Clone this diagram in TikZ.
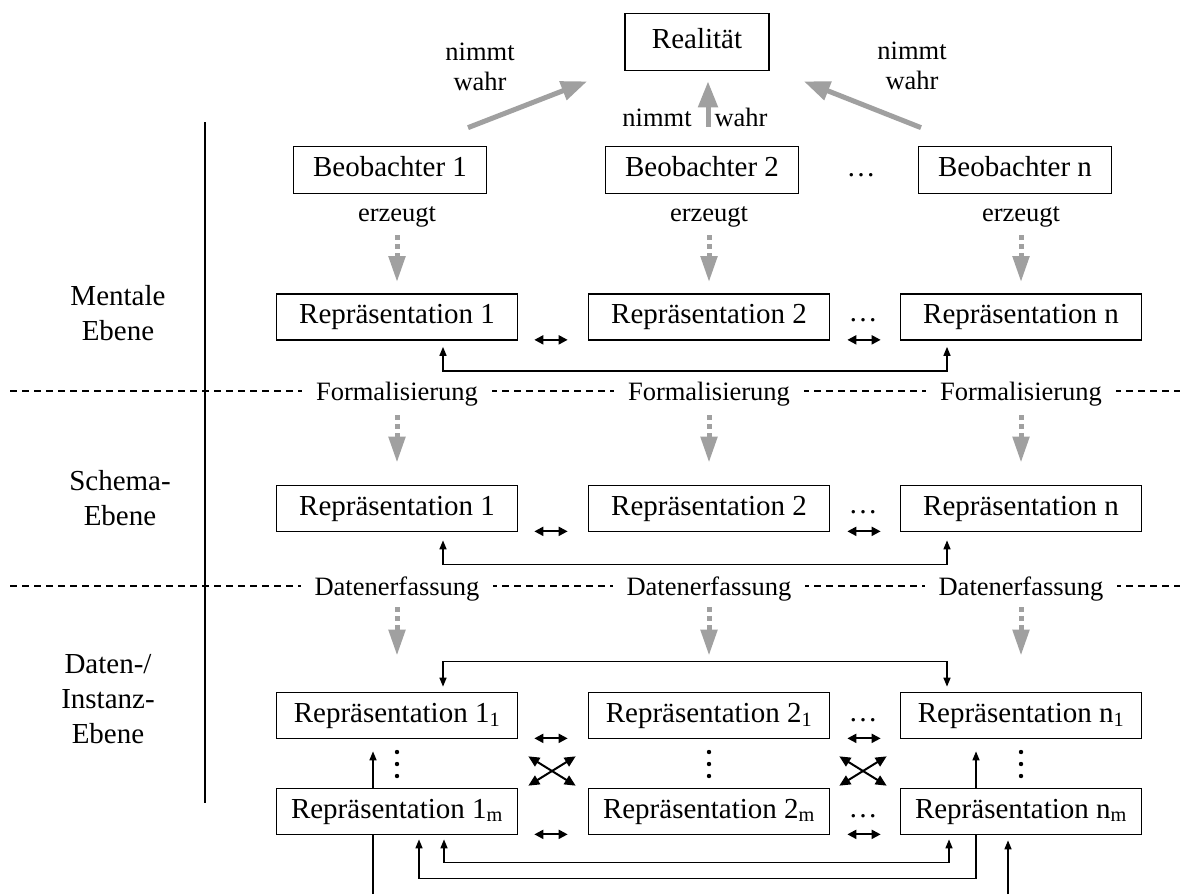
\documentclass[tikz,border=0pt]{standalone}
\usepackage{fontspec}
\setmainfont{Liberation Serif}
\usetikzlibrary{arrows.meta}
\definecolor{arrgray}{RGB}{160,160,160}

\begin{document}
\begin{tikzpicture}[x=1pt,y=-1pt,
  font=\fontsize{29}{35}\selectfont,
  box/.style={draw, line width=1.7pt, fill=white, inner sep=0pt,
    minimum width=241pt, minimum height=46pt, text height=20pt, text depth=7pt},
  obs/.style={box, minimum width=193pt, minimum height=47pt},
  lbl/.style={font=\fontsize{26.5}{30}\selectfont, inner sep=0pt,
    text height=18pt, text depth=6pt},
  lbltwo/.style={font=\fontsize{26.5}{30}\selectfont, inner sep=0pt, align=center},
  seplbl/.style={lbl, fill=white, inner xsep=14pt},
  level/.style={align=center, inner sep=0pt},
  ell/.style={inner sep=0pt, text height=20pt, text depth=7pt},
  sep/.style={line width=1.2pt, dash pattern=on 7pt off 5pt},
  perceive/.style={draw=arrgray, line width=5pt, -{Triangle[length=26pt,width=19pt]}},
  produce/.style={draw=arrgray, line width=5pt, dash pattern=on 5pt off 4pt,
    -{Triangle[length=26pt,width=16pt]}},
  link/.style={line width=1.5pt, {Triangle[length=9pt,width=7pt]}-{Triangle[length=9pt,width=7pt]}},
  uplink/.style={line width=1.5pt, -{Triangle[length=9pt,width=7pt]}},
  plain/.style={line width=1.5pt},
  dbl/.style={line width=2pt, {Triangle[length=9pt,width=9pt]}-{Triangle[length=9pt,width=9pt]}},
  cross/.style={line width=2pt, {Triangle[length=11pt,width=10pt]}-{Triangle[length=11pt,width=10pt]}}
]
\path[fill=white, use as bounding box] (0,0) rectangle (1185,894);

% level separators and the vertical rule
\draw[sep] (10,391) -- (1180,391);
\draw[sep] (10,586) -- (1180,586);
\draw[line width=1.8pt] (205,122) -- (205,803);

% level names
\node[level] (lvlM) at (118,313) {Mentale\\Ebene};
\node[level] (lvlS) at (120,498) {Schema-\\Ebene};
\node[level] (lvlD) at (108,699) {Daten-/\\Instanz-\\Ebene};

% reality and observers
\node[box, minimum width=144pt, minimum height=57pt] (real) at (697,42) {Realität};
\node[obs] (b1) at (390,170) {Beobachter 1};
\node[obs] (b2) at (702,170) {Beobachter 2};
\node[obs] (bn) at (1015,170) {Beobachter n};
\node[ell] (bdots) at (861,170) {…};

\node[lbltwo] (nw1) at (480,67) {nimmt\\wahr};
\node[lbltwo] (nw3) at (912,66) {nimmt\\wahr};
\node[lbl] (nw2a) at (657,120) {nimmt};
\node[lbl] (nw2b) at (741,120) {wahr};

\draw[perceive] ([xshift=78pt,yshift=18pt]b1.north) -- ([xshift=-37pt,yshift=-10pt]real.south west);
\draw[perceive] ([xshift=6pt,yshift=19pt]b2.north) -- ([xshift=11pt,yshift=-10pt]real.south);
\draw[perceive] ([xshift=-94pt,yshift=18pt]bn.north) -- ([xshift=34pt,yshift=-10pt]real.south east);

% mental level
\node[lbl] (e1) at (397,215) {erzeugt};
\node[lbl] (e2) at (709,215) {erzeugt};
\node[lbl] (en) at (1021,215) {erzeugt};
\node[box] (m1) at (397,317) {Repräsentation 1};
\node[box] (m2) at (709,317) {Repräsentation 2};
\node[box] (mn) at (1021,317) {Repräsentation n};
\node[ell] (mdots) at (863,315) {…};
\foreach \c in {1,2,n} \draw[produce, shorten <=8pt, shorten >=11pt] (e\c.south) -- (m\c.north);
\draw[dbl] ([xshift=16pt,yshift=1pt]m1.south east) -- ([xshift=-20pt,yshift=1pt]m2.south west);
\draw[dbl] ([xshift=17pt,yshift=1pt]m2.south east) -- ([xshift=-19pt,yshift=1pt]mn.south west);
\draw[link, shorten <=6pt, shorten >=6pt] ([xshift=46pt]m1.south) -- ++(0,30) -| ([xshift=-74pt]mn.south);

% schema level
\node[seplbl] (f1) at (397,394) {Formalisierung};
\node[seplbl] (f2) at (709,394) {Formalisierung};
\node[seplbl] (fn) at (1021,394) {Formalisierung};
\node[box] (s1) at (397,508.5) {Repräsentation 1};
\node[box] (s2) at (709,508.5) {Repräsentation 2};
\node[box] (sn) at (1021,508.5) {Repräsentation n};
\node[ell] (sdots) at (863,507) {…};
\foreach \c in {1,2,n} \draw[produce, shorten <=9pt, shorten >=22pt] (f\c.south) -- (s\c.north);
\draw[dbl] ([xshift=16pt,yshift=1pt]s1.south east) -- ([xshift=-20pt,yshift=1pt]s2.south west);
\draw[dbl] ([xshift=17pt,yshift=1pt]s2.south east) -- ([xshift=-19pt,yshift=1pt]sn.south west);
\draw[link, shorten <=8pt, shorten >=8pt] ([xshift=46pt]s1.south) -- ++(0,32) -| ([xshift=-74pt]sn.south);

% data / instance level
\node[seplbl] (d1) at (397,589) {Datenerfassung};
\node[seplbl] (d2) at (709,589) {Datenerfassung};
\node[seplbl] (dn) at (1021,589) {Datenerfassung};
\node[box] (i11) at (397,715.5) {Repräsentation 1\textsubscript{1}};
\node[box] (i21) at (709,715.5) {Repräsentation 2\textsubscript{1}};
\node[box] (in1) at (1021,715.5) {Repräsentation n\textsubscript{1}};
\node[box] (i1m) at (397,811.5) {Repräsentation 1\textsubscript{m}};
\node[box] (i2m) at (709,811.5) {Repräsentation 2\textsubscript{m}};
\node[box] (inm) at (1021,811.5) {Repräsentation n\textsubscript{m}};
\node[ell] (idots1) at (863,714.5) {…};
\node[ell] (idotsm) at (863,810.5) {…};
\draw[produce, shorten <=6pt, shorten >=36pt] (d1.south) -- (i11.north);
\draw[produce, shorten <=6pt, shorten >=36pt] (d2.south) -- (i21.north);
\draw[produce, shorten <=6pt, shorten >=36pt] (dn.south) -- (in1.north);

% vertical ellipses between the first and the m-th instance
\foreach \x in {397,709,1021}
  \foreach \y in {752,764,776}
    \fill (\x,\y) circle (2.2pt);

\draw[dbl] ([xshift=16pt,yshift=1pt]i11.south east) -- ([xshift=-20pt,yshift=1pt]i21.south west);
\draw[dbl] ([xshift=17pt,yshift=1pt]i21.south east) -- ([xshift=-19pt,yshift=1pt]in1.south west);
\draw[dbl] ([xshift=16pt,yshift=1pt]i1m.south east) -- ([xshift=-20pt,yshift=1pt]i2m.south west);
\draw[dbl] ([xshift=17pt,yshift=1pt]i2m.south east) -- ([xshift=-19pt,yshift=1pt]inm.south west);

\draw[cross] ([xshift=10pt,yshift=-17pt]i11.south east) -- ([xshift=-12pt,yshift=2pt]i2m.north west);
\draw[cross] ([xshift=10pt,yshift=2pt]i1m.north east) -- ([xshift=-12pt,yshift=-17pt]i21.south west);
\draw[cross] ([xshift=9pt,yshift=-17pt]i21.south east) -- ([xshift=-13pt,yshift=2pt]inm.north west);
\draw[cross] ([xshift=9pt,yshift=2pt]i2m.north east) -- ([xshift=-13pt,yshift=-17pt]in1.south west);

\draw[link, shorten <=5pt, shorten >=5pt] ([xshift=46pt]i11.north) -- ++(0,-30) -| ([xshift=-74pt]in1.north);
\draw[uplink, shorten >=12pt] ([xshift=-24pt]i1m.north) -- ([xshift=-24pt]i11.south);
\draw[uplink, shorten >=12pt] ([xshift=-45pt]inm.north) -- ([xshift=-45pt]in1.south);
\draw[link, shorten <=4pt, shorten >=4pt] ([xshift=47pt]i1m.south) -- ++(0,27) -| ([xshift=-72pt]inm.south);
\draw[uplink, shorten >=4pt] ([xshift=-45pt]inm.south) -- ++(0,43) -| ([xshift=22pt]i1m.south);

\coordinate (feedL) at (373,894);
\coordinate (feedR) at (1008,894);
\draw[plain] (feedL) -- ([xshift=-24pt]i1m.south);
\draw[uplink, shorten >=5pt] (feedR) -- ([xshift=-13pt]inm.south);
\end{tikzpicture}
\end{document}
